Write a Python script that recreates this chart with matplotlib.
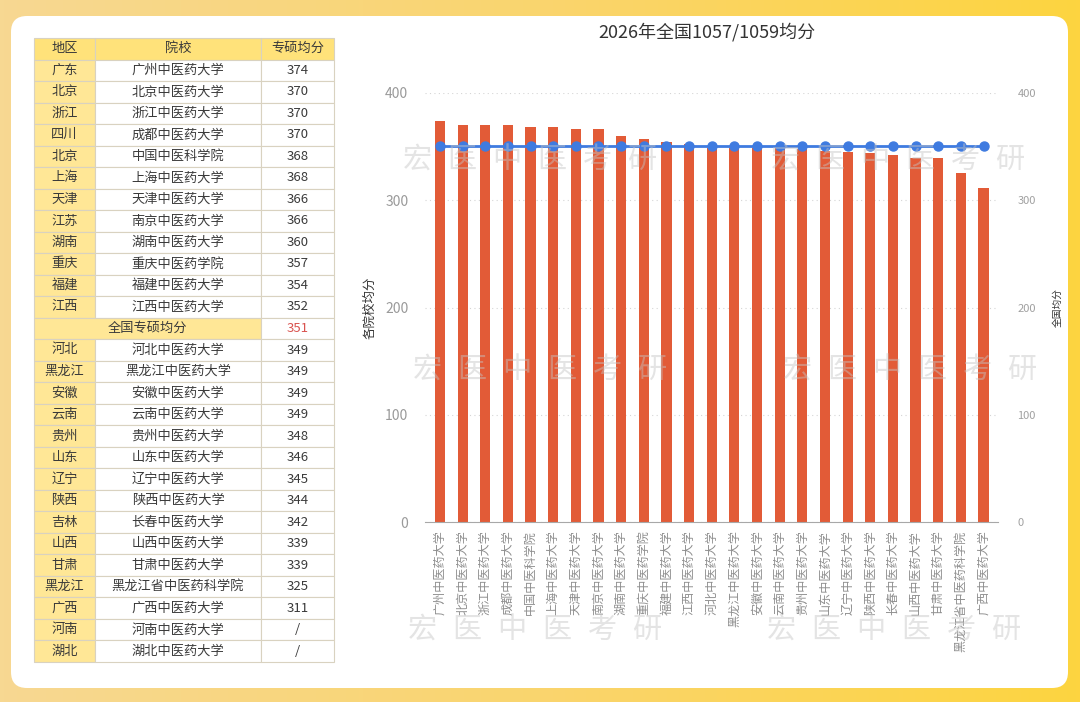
import numpy as np
import matplotlib
matplotlib.use("Agg")
import matplotlib.pyplot as plt
from matplotlib.patches import FancyBboxPatch, Rectangle
from matplotlib.colors import LinearSegmentedColormap

plt.rcParams['font.family'] = ['Noto Sans CJK SC', 'DejaVu Sans']

# ---- data ----
regions = ['广东', '北京', '浙江', '四川', '北京', '上海', '天津', '江苏', '湖南', '重庆', '福建', '江西',
           '河北', '黑龙江', '安徽', '云南', '贵州', '山东', '辽宁', '陕西', '吉林', '山西', '甘肃',
           '黑龙江', '广西', '河南', '湖北']
schools = ['广州中医药大学', '北京中医药大学', '浙江中医药大学', '成都中医药大学', '中国中医科学院',
           '上海中医药大学', '天津中医药大学', '南京中医药大学', '湖南中医药大学', '重庆中医药学院',
           '福建中医药大学', '江西中医药大学', '河北中医药大学', '黑龙江中医药大学', '安徽中医药大学',
           '云南中医药大学', '贵州中医药大学', '山东中医药大学', '辽宁中医药大学', '陕西中医药大学',
           '长春中医药大学', '山西中医药大学', '甘肃中医药大学', '黑龙江省中医药科学院', '广西中医药大学',
           '河南中医药大学', '湖北中医药大学']
scores = [374, 370, 370, 370, 368, 368, 366, 366, 360, 357, 354, 352,
          349, 349, 349, 349, 348, 346, 345, 344, 342, 339, 339, 325, 311, None, None]
national_avg = 351
n_above = 12  # rows before the national average row

title = '2026年全国1057/1059均分'
yticks = [0, 100, 200, 300, 400]
watermark = '宏医中医考研'

W, H = 1080, 702
fig = plt.figure(figsize=(W / 100, H / 100), dpi=100)

# ---- background ----
bg = fig.add_axes([0, 0, 1, 1])
bg.set_xlim(0, W)
bg.set_ylim(H, 0)
bg.axis('off')
cmap = LinearSegmentedColormap.from_list('bgc', ['#F7D892', '#FAD56E', '#FDD440'])
grad = np.linspace(0, 1, 256).reshape(1, -1)
bg.imshow(grad, cmap=cmap, extent=[0, W, H, 0], aspect='auto', zorder=0)
panel = FancyBboxPatch((11, 16), W - 23, H - 30, boxstyle='round,pad=0,rounding_size=16',
                       facecolor='white', edgecolor='none', zorder=1)
bg.add_patch(panel)

# ---- table ----
tx0, tx1, ty0, ty1 = 34, 334, 38, 662
col_edges = [34, 95, 261, 334]
nrows = 1 + len(regions) + 1
rh = (ty1 - ty0) / nrows
yellow_head = '#FFE27A'
yellow_col = '#FFE796'
border = '#D9D2C0'
txt = '#3A3A3A'


def cell(x0, x1, r, text, fc, color=txt):
    y = ty0 + r * rh
    bg.add_patch(Rectangle((x0, y), x1 - x0, rh, facecolor=fc, edgecolor=border, lw=0.8, zorder=2))
    bg.text((x0 + x1) / 2, y + rh / 2, text, ha='center', va='center', fontsize=9.5,
            color=color, zorder=3)


for j, head in enumerate(['地区', '院校', '专硕均分']):
    cell(col_edges[j], col_edges[j + 1], 0, head, yellow_head)

r = 1
for i in range(len(regions)):
    if i == n_above:
        cell(col_edges[0], col_edges[2], r, '全国专硕均分', yellow_col)
        cell(col_edges[2], col_edges[3], r, str(national_avg), 'white', color='#D9534F')
        r += 1
    cell(col_edges[0], col_edges[1], r, regions[i], yellow_col)
    cell(col_edges[1], col_edges[2], r, schools[i], 'white')
    cell(col_edges[2], col_edges[3], r, '/' if scores[i] is None else str(scores[i]), 'white')
    r += 1

# ---- bar chart ----
bar_names = [s for s, v in zip(schools, scores) if v is not None]
bar_vals = [v for v in scores if v is not None]
x = np.arange(len(bar_vals))

ax = fig.add_axes([425 / W, 1 - 522 / H, (998 - 425) / W, (522 - 93) / H])
ax.set_zorder(2)
ax.patch.set_alpha(0)
ax.bar(x, bar_vals, width=0.45, color='#E25B37', zorder=2)
ax.set_ylim(0, 400)
ax.set_xlim(-0.66, len(x) - 1 + 0.64)
ax.set_yticks(yticks)
ax.yaxis.grid(True, linestyle=(0, (1, 3)), color='#D5D5D5', lw=0.8)
ax.set_axisbelow(True)
for s in ['top', 'right', 'left']:
    ax.spines[s].set_visible(False)
ax.spines['bottom'].set_color('#A8A8A8')
ax.tick_params(axis='y', length=0, labelsize=10, labelcolor='#9A9A9A', pad=12)
ax.tick_params(axis='x', length=0, pad=6)
ax.set_xticks(x)
ax.set_xticklabels(bar_names, rotation=90, fontsize=8.7, color='#8E8E8E', va='top')
ax.set_ylabel('各院校均分', fontsize=9, color='#333333', labelpad=6)
ax.set_title(title, fontsize=13, color='#333333', pad=0, x=(707 - 425) / (998 - 425), y=1.13)

ax2 = ax.twinx()
ax2.plot(x, [national_avg] * len(x), color='#3F7BE0', lw=2, marker='o', markersize=6.5, zorder=3)
ax2.set_ylim(0, 400)
ax2.set_yticks(yticks)
for s in ['top', 'right', 'left', 'bottom']:
    ax2.spines[s].set_visible(False)
ax2.tick_params(axis='y', length=0, labelsize=8, labelcolor='#A0A0A0', pad=14)
ax2.set_ylabel('全国均分', fontsize=7, color='#333333', labelpad=12)

# ---- watermark ----
for (x0, cy) in [(417, 160), (785, 160), (427, 370), (797, 370), (422, 630), (781, 630)]:
    for k, ch in enumerate(watermark):
        fig.text((x0 + 45 * k) / W, 1 - cy / H, ch, ha='center', va='center', fontsize=21,
                 fontweight='light', color='#C4C4C4', alpha=0.45, zorder=10)

fig.savefig('out.png', dpi=100)
